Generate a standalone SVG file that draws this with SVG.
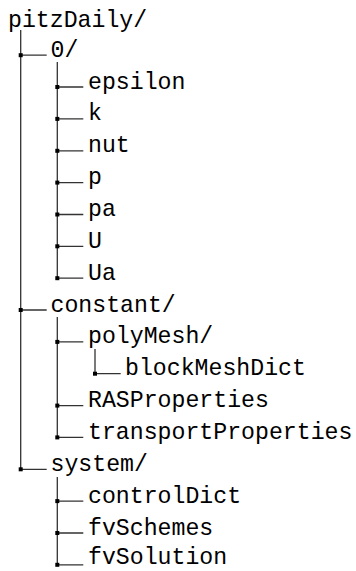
<svg xmlns="http://www.w3.org/2000/svg" width="356" height="571" viewBox="0 0 356 571">
<style>
text{font-family:"Liberation Mono","DejaVu Sans Mono",monospace;font-size:23.2px;fill:#000}
.ln{stroke:#333;stroke-width:1.3;fill:none}
.mk{fill:#000}
</style>
<rect width="356" height="571" fill="#fff"/>
<g id="connectors">
<path class="ln" d="M20.7 30V469.3M20.7 55.2H46.7M20.7 310H46.7M20.7 469.3H46.7"/>
<path class="ln" d="M57.3 62V278.2M57.3 87H83.3M57.3 118.9H83.3M57.3 150.8H83.3M57.3 182.6H83.3M57.3 214.5H83.3M57.3 246.3H83.3M57.3 278.2H83.3"/>
<path class="ln" d="M57.3 317V437.4M57.3 341.9H83.3M57.3 405.6H83.3M57.3 437.4H83.3"/>
<path class="ln" d="M95 349V373.7H120.7"/>
<path class="ln" d="M57.3 477V564.8M57.3 501.1H83.3M57.3 533H83.3M57.3 564.8H83.3"/>
<g class="mk">
<rect x="18.7" y="53.2" width="4" height="4"/>
<rect x="18.7" y="308" width="4" height="4"/>
<rect x="18.7" y="467.3" width="4" height="4"/>
<rect x="55.3" y="85" width="4" height="4"/>
<rect x="55.3" y="116.9" width="4" height="4"/>
<rect x="55.3" y="148.8" width="4" height="4"/>
<rect x="55.3" y="180.6" width="4" height="4"/>
<rect x="55.3" y="212.5" width="4" height="4"/>
<rect x="55.3" y="244.3" width="4" height="4"/>
<rect x="55.3" y="276.2" width="4" height="4"/>
<rect x="55.3" y="339.9" width="4" height="4"/>
<rect x="93" y="371.7" width="4" height="4"/>
<rect x="55.3" y="403.6" width="4" height="4"/>
<rect x="55.3" y="435.4" width="4" height="4"/>
<rect x="55.3" y="499.1" width="4" height="4"/>
<rect x="55.3" y="531" width="4" height="4"/>
<rect x="55.3" y="562.8" width="4" height="4"/>
</g>
</g>
<g id="pitzDaily"><text x="8" y="27">pitzDaily/</text></g>
<g id="dir0"><text x="50.5" y="57">0/</text></g>
<g id="epsilon"><text x="88" y="88.5">epsilon</text></g>
<g id="k"><text x="88" y="120.4">k</text></g>
<g id="nut"><text x="88" y="152.3">nut</text></g>
<g id="p"><text x="88" y="184.1">p</text></g>
<g id="pa"><text x="88" y="216">pa</text></g>
<g id="U"><text x="88" y="247.8">U</text></g>
<g id="Ua"><text x="88" y="279.7">Ua</text></g>
<g id="constant"><text x="50.5" y="311.5">constant/</text></g>
<g id="polyMesh"><text x="88" y="343.4">polyMesh/</text></g>
<g id="blockMeshDict"><text x="125" y="375.2">blockMeshDict</text></g>
<g id="RASProperties"><text x="88" y="407.1">RASProperties</text></g>
<g id="transportProperties"><text x="88" y="438.9">transportProperties</text></g>
<g id="system"><text x="50.5" y="470.8">system/</text></g>
<g id="controlDict"><text x="88" y="502.6">controlDict</text></g>
<g id="fvSchemes"><text x="88" y="534.5">fvSchemes</text></g>
<g id="fvSolution"><text x="88" y="564">fvSolution</text></g>
</svg>
